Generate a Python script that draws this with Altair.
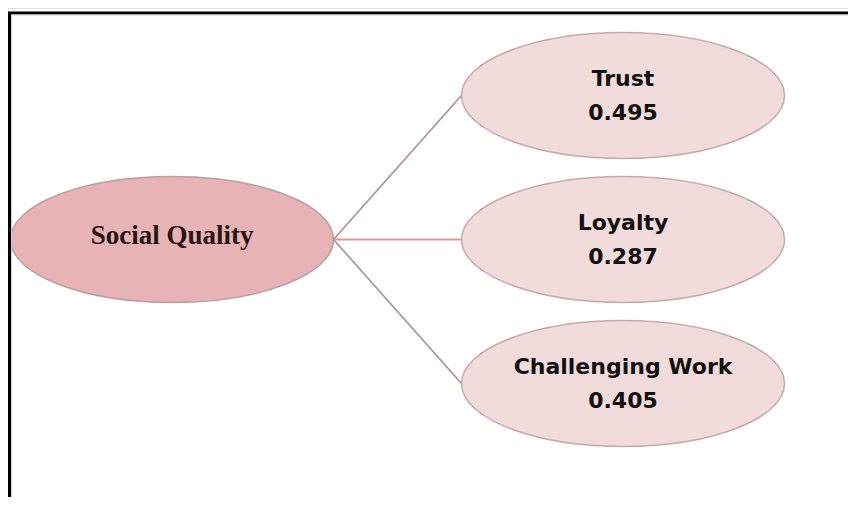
import altair as alt
import pandas as pd

# ---- data ----
root_label = "Social Quality"
child_labels = ["Trust", "Loyalty", "Challenging Work"]
child_values = [0.495, 0.287, 0.405]

# ---- layout (page pixels) ----
W, H = 840, 489
ROOT_X, CHILD_X = 172, 623
ROW_Y = [95.5, 239.5, 383.5]
ROOT_Y = ROW_Y[1]
RX, RY = 161.5, 63

nodes = pd.DataFrame({
    "label": [root_label] + child_labels,
    "value": [float("nan")] + child_values,
    "x": [ROOT_X] + [CHILD_X] * len(child_labels),
    "y": [ROOT_Y] + ROW_Y,
    "kind": ["root"] + ["child"] * len(child_labels),
})
children = nodes[nodes.kind == "child"].copy()
root = nodes[nodes.kind == "root"].copy()

edges = pd.DataFrame({
    "target": child_labels,
    "x": [ROOT_X + RX] * len(child_labels),
    "y": [ROOT_Y] * len(child_labels),
    "x2": [CHILD_X - RX] * len(child_labels),
    "y2": ROW_Y,
})
diag_edges = edges[edges.target != "Loyalty"]
flat_edges = edges[edges.target == "Loyalty"]

xs = alt.Scale(domain=[8, 8 + W], nice=False, zero=False)
ys = alt.Scale(domain=[8, 8 + H], reverse=True, nice=False, zero=False)
X = lambda f: alt.X(f, type="quantitative", scale=xs, axis=None)
Y = lambda f: alt.Y(f, type="quantitative", scale=ys, axis=None)

k = RY / RX
ellipse = f"M -1 0 A 1 {k:.4f} 0 1 1 1 0 A 1 {k:.4f} 0 1 1 -1 0 Z"
esize = (2 * RX) ** 2

diag_layer = alt.Chart(diag_edges).mark_rule(strokeWidth=1.6, color="#b08c8c").encode(
    x=X("x"), y=Y("y"), x2="x2", y2="y2")
flat_layer = alt.Chart(flat_edges).mark_rule(strokeWidth=1.8, color="#dc959b").encode(
    x=X("x"), y=Y("y"), x2="x2", y2="y2")

root_shape = alt.Chart(root).mark_point(
    shape=ellipse, size=esize, filled=True, fill="#e7b3b7", fillOpacity=1,
    stroke="#b8a0a0", strokeWidth=1.5, opacity=1,
).encode(x=X("x"), y=Y("y"))

child_shape = alt.Chart(children).mark_point(
    shape=ellipse, size=esize, filled=True, fill="#f2dcdb", fillOpacity=1,
    stroke="#c6abab", strokeWidth=1.5, opacity=1,
).encode(x=X("x"), y=Y("y"))

root_text = alt.Chart(root).mark_text(
    font="Liberation Serif", fontWeight="bold", fontSize=27, color="#2a1414",
    baseline="middle", align="center", dy=-4,
).encode(x=X("x"), y=Y("y"), text="label:N")

child_name = alt.Chart(children).mark_text(
    font="DejaVu Sans", fontWeight="bold", fontSize=22, color="#111111",
    baseline="middle", align="center", dy=-17,
).encode(x=X("x"), y=Y("y"), text="label:N")

child_val = alt.Chart(children).mark_text(
    font="DejaVu Sans", fontWeight="bold", fontSize=22, color="#111111",
    baseline="middle", align="center", dy=17,
).encode(x=X("x"), y=Y("y"), text=alt.Text("value:Q", format=".3f"))

dummy = pd.DataFrame({"a": [0]})
border_top = alt.Chart(dummy).mark_rule(color="black", strokeWidth=3).encode(
    x=alt.value(0), x2=alt.value(W), y=alt.value(5))
border_left = alt.Chart(dummy).mark_rule(color="black", strokeWidth=3).encode(
    x=alt.value(1.5), y=alt.value(4), y2=alt.value(H))
inner_top = alt.Chart(dummy).mark_rule(color="#cfcfcf", strokeWidth=1).encode(
    x=alt.value(3), x2=alt.value(W), y=alt.value(7))
inner_left = alt.Chart(dummy).mark_rule(color="#cfcfcf", strokeWidth=1).encode(
    x=alt.value(3.5), y=alt.value(7), y2=alt.value(H))

chart = alt.layer(
    diag_layer, flat_layer, root_shape, child_shape, root_text, child_name, child_val,
    border_top, border_left, inner_top, inner_left,
).properties(
    width=W, height=H, padding=0, autosize=alt.AutoSizeParams(type="none"),
).configure_view(stroke=None).configure(background="white")

chart.save("out.html", embed_options={"renderer": "svg", "actions": False})
